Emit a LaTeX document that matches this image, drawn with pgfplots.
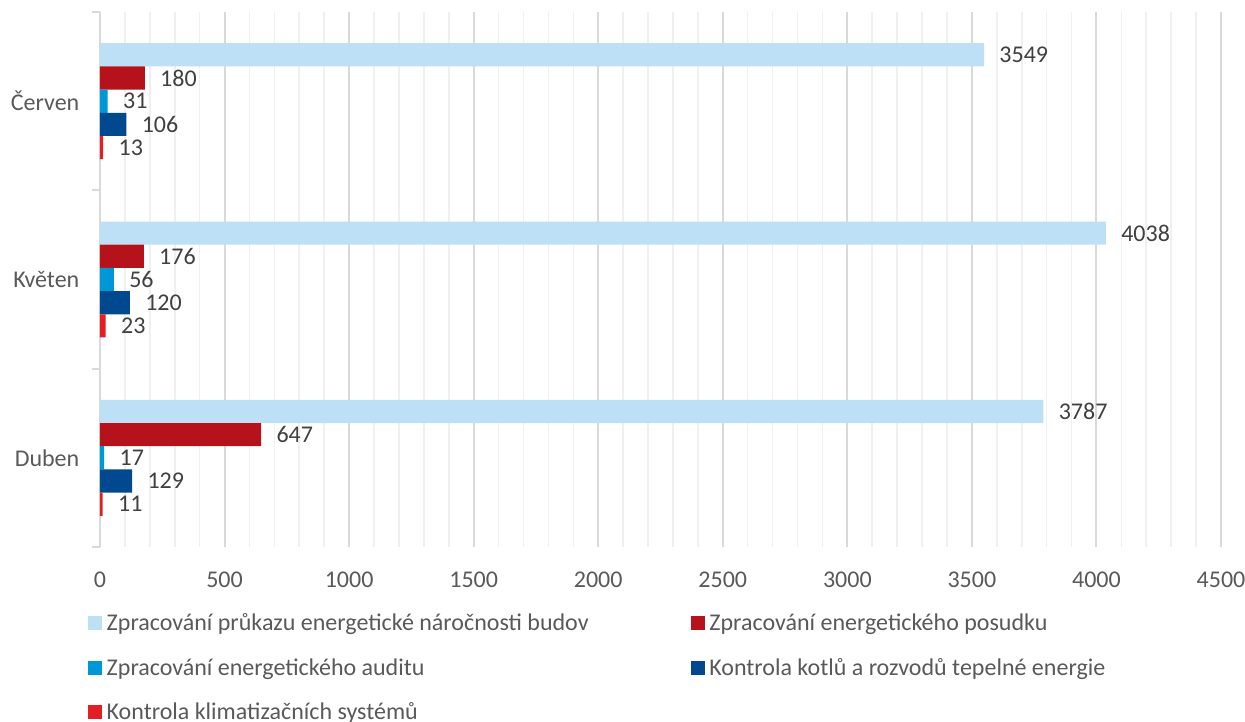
\documentclass[border=0pt]{standalone}
\usepackage{fontspec}
\setmainfont{Carlito}
\usepackage{pgfplots}
\pgfplotsset{compat=1.18}

\definecolor{cPrukaz}{RGB}{189,224,246}
\definecolor{cPosudek}{RGB}{181,18,27}
\definecolor{cAudit}{RGB}{0,151,215}
\definecolor{cKotle}{RGB}{0,73,143}
\definecolor{cKlima}{RGB}{228,30,37}
\definecolor{gridmaj}{RGB}{217,217,217}
\definecolor{gridmin}{RGB}{240,240,240}
\definecolor{ticktext}{RGB}{89,89,89}
\definecolor{valtext}{RGB}{64,64,64}

\pgfplotsset{
  sq legend/.style={legend image code/.code={\fill[##1,draw=none] (0pt,-5.25pt) rectangle (10.5pt,5.25pt);}},
}
\newcommand\chartfont{\fontsize{18}{21}\selectfont}

\begin{document}
\begin{tikzpicture}
\begin{axis}[
  name=ax,
  scale only axis,
  width=840.75pt, height=401.25pt,
  xmin=0, xmax=4500, ymin=-0.5, ymax=2.5,
  xbar, bar width=0.13,
  /pgf/number format/assume math mode=true,
  /pgf/number format/1000 sep={},
  xtick={0,500,...,4500},
  minor x tick num=4,
  xmajorgrids, xminorgrids,
  major x grid style={draw=gridmaj, line width=1.5pt},
  minor x grid style={draw=gridmin, line width=1.2pt},
  major tick length=0pt, minor tick length=0pt,
  axis y line*=left, axis x line*=bottom,
  x axis line style={draw=none},
  y axis line style={draw=gridmaj, line width=1.5pt, -},
  xticklabel style={font=\chartfont, text=ticktext, yshift=-15pt},
  ytick={0,1,2},
  yticklabels={Duben,Květen,Červen},
  yticklabel style={font=\chartfont, text=ticktext, xshift=-12pt},
  extra y ticks={-0.5,0.5,1.5,2.5},
  extra y tick labels={},
  extra y tick style={tick align=outside, major tick length=6pt, tick style={draw=gridmaj, line width=1.5pt}},
  nodes near coords,
  nodes near coords style={font=\chartfont, text=valtext, xshift=8pt},
  legend columns=2,
  legend cell align=left,
  legend style={draw=none, fill=none, inner sep=0pt, outer sep=0pt,
    at={(axis description cs:-0.0107,-0.12)}, anchor=north west,
    font=\chartfont, text=ticktext,
    row sep=15pt,
    /tikz/every odd column/.append style={column sep=1.5pt},
    /tikz/every even column/.append style={column sep=0pt}},
]
\addplot[fill=cPrukaz, draw=none, bar shift=0.26, sq legend] coordinates {(3787,0) (4038,1) (3549,2)};
\addlegendentry{\makebox[436pt][l]{Zpracování průkazu energetické náročnosti budov}}
\addplot[fill=cPosudek, draw=none, bar shift=0.13, sq legend] coordinates {(647,0) (176,1) (180,2)};
\addlegendentry{Zpracování energetického posudku}
\addplot[fill=cAudit, draw=none, bar shift=0, sq legend] coordinates {(17,0) (56,1) (31,2)};
\addlegendentry{Zpracování energetického auditu}
\addplot[fill=cKotle, draw=none, bar shift=-0.13, sq legend] coordinates {(129,0) (120,1) (106,2)};
\addlegendentry{Kontrola kotlů a rozvodů tepelné energie}
\addplot[fill=cKlima, draw=none, bar shift=-0.26, sq legend] coordinates {(11,0) (23,1) (13,2)};
\addlegendentry{Kontrola klimatizačních systémů}
\end{axis}
\pgfresetboundingbox
\useasboundingbox (-75pt,-130.5pt) rectangle (858.75pt,410.25pt);
\end{tikzpicture}
\end{document}
